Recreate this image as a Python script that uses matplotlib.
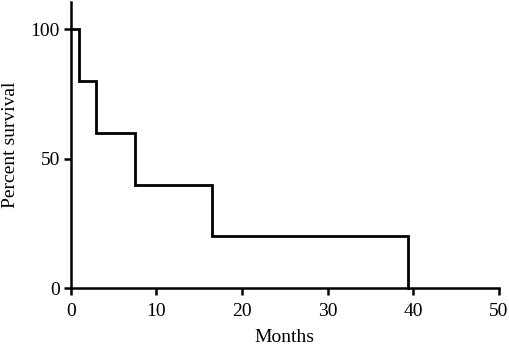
import matplotlib.pyplot as plt

# step points of the survival curve (months, percent surviving)
MONTHS = [0, 0.9, 2.9, 7.5, 16.5, 39.4]
SURVIVAL = [100, 80, 60, 40, 20, 0]
X_TICKS = [0, 10, 20, 30, 40, 50]
Y_TICKS = [0, 50, 100]


def main() -> None:
    plt.rcParams["font.family"] = ["Liberation Serif", "DejaVu Serif"]
    fig = plt.figure(figsize=(5.1, 3.48), dpi=100)
    ax = fig.add_axes([0.139, 0.172, 0.839, 0.822])

    ax.step(MONTHS, SURVIVAL, where="post", color="black", lw=2.0,
            clip_on=False, solid_joinstyle="miter")

    ax.set_xlim(0, 50)
    ax.set_ylim(0, 110.4)
    ax.set_xticks(X_TICKS)
    ax.set_yticks(Y_TICKS)
    ax.tick_params(direction="out", length=5, width=1.8, labelsize=14)
    ax.tick_params(axis="x", pad=6)
    ax.tick_params(axis="y", pad=3)
    for side in ("top", "right"):
        ax.spines[side].set_visible(False)
    for side in ("left", "bottom"):
        ax.spines[side].set_linewidth(1.8)

    ax.set_xlabel("Months", fontsize=14, labelpad=6)
    ax.set_ylabel("Percent survival", fontsize=14, labelpad=8)

    fig.savefig("out.png", dpi=100)


if __name__ == "__main__":
    main()
